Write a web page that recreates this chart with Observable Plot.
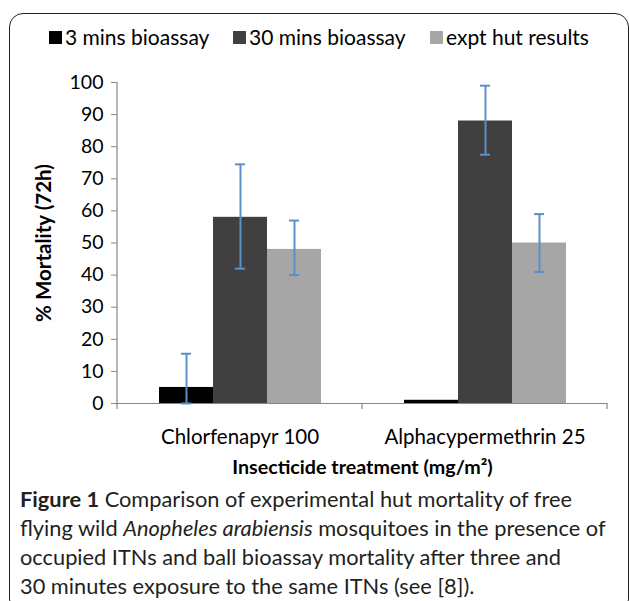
<!DOCTYPE html>
<html>
<head>
<meta charset="utf-8">
<script src="https://cdn.jsdelivr.net/npm/d3@7"></script>
<script src="https://cdn.jsdelivr.net/npm/@observablehq/plot@0.6"></script>
<style>
  html, body { margin: 0; padding: 0; background: #fff; }
  #page { position: relative; width: 629px; height: 601px; overflow: hidden; font-family: Lato, "Open Sans", sans-serif; color: #000; }
  #box { position: absolute; left: 9px; top: 13px; width: 620px; height: 600px; border: 1.5px solid #222; border-radius: 14px; box-sizing: border-box; }
  .leg { position: absolute; top: 24px; font-size: 21px; white-space: nowrap; line-height: 26px; }
  .sw { position: absolute; top: 31px; width: 13px; height: 13px; }
  #chart { position: absolute; left: 0; top: 60px; }
  #caption { position: absolute; left: 20px; top: 484px; font-size: 21.8px; line-height: 29px; color: #231f20; white-space: nowrap; }
  [aria-label="y-axis label"] { font-weight: bold; font-size: 20.5px; }
  [aria-label="fx-axis label"] { font-weight: bold; font-size: 19.7px; }
</style>
</head>
<body>
<div id="page">
  <div id="box"></div>
  <div id="legend"></div>
  <div id="chart"></div>
  <div id="caption"><b>Figure 1</b> Comparison of experimental hut mortality of free<br>flying wild <i>Anopheles arabiensis</i> mosquitoes in the presence of<br>occupied ITNs and ball bioassay mortality after three and<br>30 minutes exposure to the same ITNs (see [8]).</div>
</div>
<script>
const categories = ["Chlorfenapyr 100", "Alphacypermethrin 25"];
const series = ["3 mins bioassay", "30 mins bioassay", "expt hut results"];
const colors = ["#000000", "#404040", "#a6a6a6"];
const mins3 = [5, 1];
const mins30 = [58, 88];
const hut = [48, 50];
const low3 = [0, null];
const high3 = [15.5, null];
const low30 = [42, 77.5];
const high30 = [74.5, 99];
const lowHut = [40, 41];
const highHut = [57, 59];
const yTicks = [0, 10, 20, 30, 40, 50, 60, 70, 80, 90, 100];
const legendX = [49, 233, 430];

const valueSets = [mins3, mins30, hut];
const lowSets = [low3, low30, lowHut];
const highSets = [high3, high30, highHut];

const rows = [];
const errs = [];
categories.forEach((c, i) => {
  series.forEach((s, j) => {
    rows.push({category: c, series: s, value: valueSets[j][i]});
    if (lowSets[j][i] != null) errs.push({category: c, series: s, lo: lowSets[j][i], hi: highSets[j][i]});
  });
});

// legend
const legend = document.getElementById("legend");
series.forEach((s, j) => {
  const sw = document.createElement("div");
  sw.className = "sw";
  sw.style.left = legendX[j] + "px";
  sw.style.background = colors[j];
  legend.appendChild(sw);
  const t = document.createElement("div");
  t.className = "leg";
  t.style.left = (legendX[j] + 16) + "px";
  t.textContent = s;
  legend.appendChild(t);
});

const errColor = "#5b8fca";
const plot = Plot.plot({
  width: 629,
  height: 420,
  marginTop: 22,
  marginBottom: 77,
  marginLeft: 117,
  marginRight: 22,
  style: {fontFamily: "Lato, sans-serif", fontSize: "19.5px", color: "#000", background: "transparent"},
  fx: {domain: categories, padding: 0},
  x: {domain: series, paddingInner: 0, paddingOuter: 0.75, axis: null},
  y: {domain: [0, 100]},
  color: {domain: series, range: colors},
  marks: [
    Plot.barY(rows, {fx: "category", x: "series", y: "value", fill: "series"}),
    Plot.ruleY([0], {stroke: "#868686", strokeWidth: 1.2}),
    Plot.ruleX(errs, {fx: "category", x: "series", y1: "lo", y2: "hi", stroke: errColor, strokeWidth: 2}),
    Plot.tickY(errs, {fx: "category", x: "series", y: "lo", insetLeft: 22, insetRight: 22, stroke: errColor, strokeWidth: 2}),
    Plot.tickY(errs, {fx: "category", x: "series", y: "hi", insetLeft: 22, insetRight: 22, stroke: errColor, strokeWidth: 2}),
    Plot.axisY({ticks: yTicks, tickSize: 6, tickPadding: 8, stroke: "#868686", fill: "#000", fontSize: 19.5,
      label: "% Mortality (72h)", labelAnchor: "center", labelArrow: "none", labelOffset: 81}),
    Plot.axisFx({anchor: "bottom", tickSize: 0, tickPadding: 26, fontSize: 20.5,
      label: "Insecticide treatment (mg/m²)", labelAnchor: "center", labelArrow: "none", labelOffset: 70})
  ]
});
document.getElementById("chart").appendChild(plot);

// axis line and category divider ticks, from the plot's own scales
const fxs = plot.scale("fx");
const ys = plot.scale("y");
const svg = d3.select(plot);
const x0 = fxs.range[0];
svg.append("line")
  .attr("x1", x0).attr("x2", x0)
  .attr("y1", ys.apply(0)).attr("y2", ys.apply(100))
  .attr("stroke", "#868686").attr("stroke-width", 1.2);
for (let i = 0; i <= categories.length; i++) {
  const xb = x0 + i * fxs.step;
  svg.append("line")
    .attr("x1", xb).attr("x2", xb)
    .attr("y1", ys.apply(0)).attr("y2", ys.apply(0) + 6)
    .attr("stroke", "#868686").attr("stroke-width", 1.2);
}
</script>
</body>
</html>
